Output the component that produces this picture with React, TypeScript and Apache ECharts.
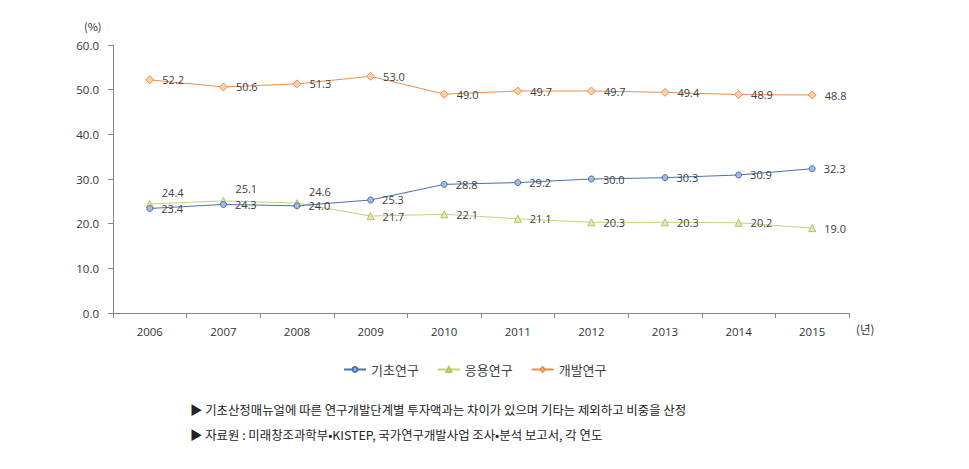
import React, { useEffect, useRef } from "react";
import * as echarts from "echarts";

const years = ["2006", "2007", "2008", "2009", "2010", "2011", "2012", "2013", "2014", "2015"];
const basic = [23.4, 24.3, 24.0, 25.3, 28.8, 29.2, 30.0, 30.3, 30.9, 32.3];
const applied = [24.4, 25.1, 24.6, 21.7, 22.1, 21.1, 20.3, 20.3, 20.2, 19.0];
const development = [52.2, 50.6, 51.3, 53.0, 49.0, 49.7, 49.7, 49.4, 48.9, 48.8];
const seriesNames = ["기초연구", "응용연구", "개발연구"];
const notes = [
  "▶ 기초산정매뉴얼에 따른 연구개발단계별 투자액과는 차이가 있으며 기타는 제외하고 비중을 산정",
  "▶ 자료원 : 미래창조과학부•KISTEP, 국가연구개발사업 조사•분석 보고서, 각 연도",
];

const FONT = "'Noto Sans CJK KR', 'Noto Sans', sans-serif";
const NUMFONT = "'Open Sans', 'Noto Sans', sans-serif";

export default function App() {
  const ref = useRef<HTMLDivElement>(null);
  useEffect(() => {
    if (!ref.current) return;
    const chart = echarts.init(ref.current, null, { renderer: "svg" });
    const labelBase = {
      show: true,
      position: "right" as const,
      distance: 8,
      color: "#404040",
      fontSize: 11,
      fontFamily: NUMFONT,
      formatter: (p: any) => Number(p.value).toFixed(1),
    };
    chart.setOption({
      animation: false,
      textStyle: { fontFamily: FONT },
      grid: { left: 113, right: 120, top: 45, bottom: 156, containLabel: false },
      xAxis: {
        type: "category",
        data: years,
        boundaryGap: true,
        axisLine: { lineStyle: { color: "#868686" } },
        axisTick: { show: true, inside: false, length: 5, lineStyle: { color: "#868686" } },
        axisLabel: { color: "#333", fontSize: 11.5, margin: 12, fontFamily: NUMFONT },
        splitLine: { show: false },
      },
      yAxis: {
        type: "value",
        min: 0,
        max: 60,
        interval: 10,
        axisLine: { show: true, lineStyle: { color: "#868686" } },
        axisTick: { show: true, length: 5, lineStyle: { color: "#868686" } },
        axisLabel: { color: "#333", fontSize: 11.5, margin: 14, formatter: (v: number) => v.toFixed(1), fontFamily: NUMFONT },
        splitLine: { show: false },
      },
      legend: {
        top: 358,
        left: 338,
        itemWidth: 22,
        itemHeight: 6,
        itemGap: 18,
        textStyle: { color: "#404040", fontSize: 13, fontFamily: FONT },
        data: seriesNames,
      },
      series: [
        {
          name: seriesNames[0],
          type: "line",
          data: basic,
          symbol: "circle",
          symbolSize: 6,
          lineStyle: { color: "#4A6FAE", width: 1 },
          itemStyle: { color: "#A5B9DD", borderColor: "#4A6FAE", borderWidth: 1 },
          label: labelBase,
          z: 3,
        },
        {
          name: seriesNames[1],
          type: "line",
          data: applied.map((v, i) => ({
            value: v,
            label: i < 3 ? { position: "right", distance: 8, offset: [0, -12] } : undefined,
          })),
          symbol: "triangle",
          symbolSize: 7,
          lineStyle: { color: "#C4D079", width: 1 },
          itemStyle: { color: "#E6EBB3", borderColor: "#B5C35C", borderWidth: 1 },
          label: labelBase,
          z: 2,
        },
        {
          name: seriesNames[2],
          type: "line",
          data: development,
          symbol: "diamond",
          symbolSize: 8,
          lineStyle: { color: "#EE8D4A", width: 1 },
          itemStyle: { color: "#FBD2AE", borderColor: "#EE8D4A", borderWidth: 1 },
          label: labelBase,
          z: 2,
        },
      ],
      graphic: [
        { type: "text", left: 84, top: 20, style: { text: "(%)", fill: "#333", fontSize: 11, fontFamily: FONT } },
        { type: "text", left: 856, top: 323, style: { text: "(년)", fill: "#333", fontSize: 11.5, fontFamily: FONT } },
        { type: "text", left: 190, top: 404, style: { text: notes[0], fill: "#222", fontSize: 12.4, fontFamily: FONT } },
        { type: "text", left: 190, top: 429, style: { text: notes[1], fill: "#222", fontSize: 12.4, fontFamily: FONT } },
      ],
    });
    return () => chart.dispose();
  }, []);
  return (
    <div
      ref={ref}
      style={{ position: "fixed", left: 0, top: 0, width: 969, height: 469, background: "#fff" }}
    />
  );
}
